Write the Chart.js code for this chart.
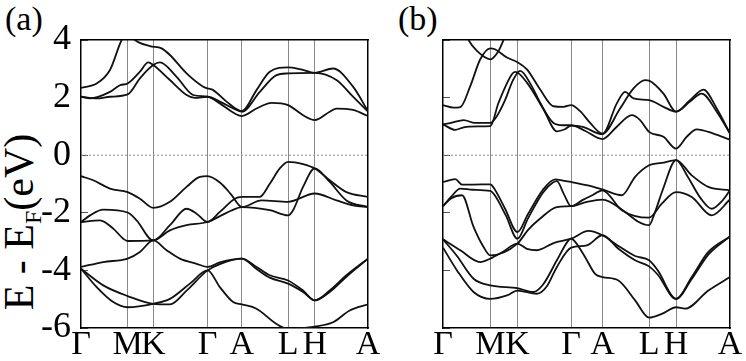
<!DOCTYPE html>
<html>
<head>
<meta charset="utf-8">
<script src="https://cdn.jsdelivr.net/npm/chart.js@4"></script>
<style>
  body { margin: 0; background: #fff; width: 746px; height: 361px; position: relative; overflow: hidden; font-family: "Liberation Serif", "Times New Roman", Times, serif; }
  canvas { position: absolute; top: 0; }
  #ca { left: 0; }
  #cb { left: 380px; }
  .tag { position: absolute; top: 2px; font-size: 34px; line-height: 1; color: #000; }
  #ylab { position: absolute; left: 21px; top: 222px; font-size: 42px; line-height: 1; white-space: nowrap; transform: translate(-50%, -50%) rotate(-90deg); }
  #ylab sub { font-size: 24px; vertical-align: -8px; }
</style>
</head>
<body>
<div class="tag" style="left:5px">(a)</div>
<div class="tag" style="left:398px">(b)</div>
<div id="ylab">E - E<sub>F</sub>(eV)</div>
<canvas id="ca" width="380" height="361"></canvas>
<canvas id="cb" width="366" height="361"></canvas>
<script>
// high-symmetry path
const kLabels = ["Γ", "M", "K", "Γ", "A", "L", "H", "A"];
const kA = [0, 46.7, 72.3, 126.7, 161, 207.3, 234, 287.3];
const kB = [0, 47.5, 74.5, 128.3, 159.6, 206.3, 233.3, 287.3];
const eMin = -6, eMax = 4, eStep = 2;
const fermi = 0;

// panel (a) bands: [k, E]
const aC4 = [[0,2.34],[15.7,2.49],[29,2.96],[40.7,4.0],[47.3,4.3],[54,4.0],[69,3.79],[80.7,3.71],[89,3.48],[105.7,2.84],[122.3,2.38],[126.7,2.32],[132.3,2.26],[145.7,1.86],[161,1.53],[175.7,2.26],[189,2.9],[207.3,3.05],[220,2.98],[234,2.86],[252.3,3.01],[272.3,2.38],[287.3,1.53]];
const aC3 = [[0,2.03],[9,1.97],[29,2.2],[39,2.43],[46.7,2.49],[59,2.9],[67.3,3.22],[72.3,3.13],[89,2.61],[105.7,2.09],[114,1.99],[126.7,2.03],[139,1.86],[155.7,1.57],[161,1.51],[179,2.2],[195.7,2.78],[207.3,2.84],[234,2.86],[255.7,2.61],[272.3,2.03],[287.3,1.51]];
const aC2 = [[0,2.03],[15.7,1.97],[29,2.03],[46.7,2.11],[59,2.67],[72.3,3.13],[79,3.22],[95.7,2.72],[112.3,2.09],[126.7,2.03],[139,1.8],[152.3,1.48],[161,1.36],[175.7,1.62],[190.7,1.82],[207.3,1.74],[222.3,1.39],[234,1.22],[249,1.51],[255.7,1.62],[272.3,1.57],[287.3,1.36]];
const aV1 = [[0,-0.73],[12.3,-0.87],[29,-1.16],[46.7,-1.28],[59,-1.51],[72.3,-1.83],[89,-1.62],[105.7,-1.1],[119,-0.75],[126.7,-0.73],[139,-0.95],[150,-1.35],[161,-1.8],[180.7,-1.57],[207.3,-1.62],[234,-1.33],[255.7,-1.57],[272.3,-1.74],[287.3,-1.8]];
const aV2 = [[0,-2.32],[9,-2.09],[22.3,-1.89],[46.7,-1.99],[55.7,-2.26],[72.3,-2.96],[89,-2.43],[105.7,-1.86],[115.7,-2.03],[126.7,-2.32],[139,-1.97],[154,-1.51],[161,-1.45],[178.7,-1.45],[189,-0.99],[199,-0.46],[207.3,-0.23],[222.3,-0.31],[234,-0.46],[249,-0.87],[265.7,-1.28],[287.3,-1.45]];
const aV3 = [[0,-2.32],[19,-2.26],[32.3,-2.55],[42.3,-2.9],[46.7,-2.98],[72.3,-2.96],[89,-2.61],[105.7,-2.43],[126.7,-2.32],[140,-2.1],[150,-1.93],[161,-1.8],[189,-1.91],[207.3,-2.09],[212.3,-1.91],[222.3,-1.1],[234,-0.46],[249,-0.93],[265.7,-1.57],[287.3,-1.8]];
const aV4 = [[0,-3.88],[22.3,-3.71],[46.7,-3.59],[59,-3.36],[72.3,-2.96],[85.7,-3.3],[99,-3.59],[115.7,-3.77],[126.7,-3.88],[139,-3.72],[161,-3.59],[175.7,-3.88],[189,-4.17],[207.3,-4.35],[222.3,-4.7],[234,-5.04],[249,-4.7],[265.7,-4.17],[287.3,-3.59]];
const aL1 = [[0,-3.94],[22.3,-4.52],[46.7,-4.89],[72.3,-5.16],[89,-5.18],[105.7,-4.7],[126.7,-4.0],[139,-3.78],[161,-3.59],[175.7,-3.95],[189,-4.25],[207.3,-4.46],[222.3,-4.75],[234,-5.04],[249,-4.75],[265.7,-4.22],[287.3,-3.59]];
const aL2 = [[0,-3.94],[15.7,-4.58],[32.3,-5.1],[46.7,-5.28],[72.3,-5.16],[89,-4.99],[109,-4.46],[126.7,-4.0],[139,-4.58],[152.3,-5.1],[161,-5.18],[175.7,-5.33],[195.7,-5.86],[207.3,-6.03],[234,-5.95],[252.3,-5.8],[269,-5.39],[287.3,-5.18]];

// panel (b) bands: [k, E]
const bU  = [[0,6.0],[15,4.9],[25.6,4.0],[34,3.62],[47.3,3.33],[55.6,3.62],[60.6,4.0],[68,4.7],[74.5,5.3]];
const bD3 = [[0,1.74],[10.6,1.65],[17.3,1.67],[27.3,2.4],[37.3,3.33],[47.3,3.71],[52,3.68],[64,3.39],[74.5,3.23],[84,2.98],[97.3,2.28],[110.6,1.7],[120.6,1.68],[128.3,1.74],[137.3,1.53],[147.3,1.12],[159.6,0.75],[177.3,1.62],[190.7,2.32],[202.3,2.61],[206.3,2.59],[220.7,2.14],[233.3,1.51],[247.3,1.86],[259,2.14],[274,1.51],[287.3,0.75]];
const bD2 = [[0,1.07],[12.3,0.88],[20.7,0.97],[35,1.0],[47.3,1.01],[55.6,1.82],[69,2.81],[72.3,2.89],[84,2.52],[100.6,1.59],[114,0.83],[122,0.9],[128.3,1.03],[140,0.98],[159.6,0.73],[174,1.8],[182.3,2.2],[190.7,1.97],[206.3,1.91],[220.7,1.68],[233.3,1.51],[247.3,1.91],[260.7,2.28],[274,1.62],[287.3,0.75]];
const bD1 = [[0,1.07],[8,1.12],[20.7,1.22],[32,1.12],[47.3,1.12],[54,1.36],[62,1.9],[70,2.6],[77.3,2.93],[88,2.45],[97.3,1.82],[110.6,1.12],[120,1.04],[128.3,1.04],[142,0.85],[159.6,0.56],[174,0.99],[189,1.39],[197.3,1.22],[206.3,0.81],[220.7,0.64],[233.3,0.23],[244,0.64],[254,0.9],[270.7,0.75],[287.3,0.54]];
const bW1 = [[0,-0.93],[12.3,-0.83],[19,-1.02],[30,-1.02],[47.3,-1.01],[50.6,-1.12],[62,-1.85],[74.5,-2.67],[85,-2.05],[100,-1.2],[112.3,-0.84],[120,-0.88],[128.3,-0.93],[145,-1.05],[159.6,-1.19],[179,-1.39],[192.3,-0.75],[206.3,-0.35],[219,-0.27],[233.3,-0.17],[249,-0.7],[265.6,-1.1],[287.3,-1.22]];
const bW2 = [[0,-1.77],[8,-1.45],[17.3,-1.16],[30,-1.2],[47.3,-1.24],[52,-1.4],[63,-2.1],[74.5,-2.9],[85,-2.2],[100,-1.3],[110,-0.95],[114,-0.9],[121,-1.35],[128.3,-1.77],[140,-1.55],[150,-1.38],[159.6,-1.22],[179,-1.91],[206.3,-2.17],[219,-1.68],[233.3,-1.28],[249,-1.45],[269,-2.09],[287.3,-1.54]];
const bW3 = [[0,-1.77],[8,-1.5],[19,-1.39],[30.6,-2.49],[40.6,-3.19],[47.3,-3.48],[74.5,-3.07],[85,-2.6],[97.3,-2.2],[114,-1.8],[128.3,-1.77],[144,-1.62],[159.6,-1.54],[182.3,-1.97],[195,-2.3],[206.3,-2.43],[212,-2.0],[220,-1.2],[233.3,-0.17],[245,-0.75],[258,-1.5],[269,-1.86],[279,-1.6],[287.3,-1.22]];
const bL1 = [[0,-2.92],[17.3,-3.3],[37.3,-3.71],[47.3,-3.59],[60,-3.35],[74.5,-3.07],[84,-3.25],[94,-3.3],[110.7,-3.05],[128.3,-2.9],[145.6,-2.63],[159.6,-2.78],[175.6,-3.15],[192.3,-3.5],[206.3,-3.65],[215,-4.0],[233.3,-4.99],[249,-4.23],[265.6,-3.36],[287.3,-2.82]];
const bL2 = [[0,-2.92],[14,-3.5],[30.6,-4.29],[47.3,-4.52],[74.5,-4.62],[90.6,-4.75],[100,-4.5],[114,-3.65],[125.6,-2.96],[128.3,-2.9],[132.3,-3.01],[142.3,-3.54],[152.3,-4.12],[159.6,-4.23],[175.6,-4.35],[192.3,-5.04],[206.3,-5.64],[219,-5.51],[233.3,-5.28],[242.3,-5.33],[265.6,-4.7],[287.3,-4.23]];
const bL3 = [[0,-3.21],[14,-4.0],[30.6,-4.75],[47.3,-4.99],[64,-4.87],[74.5,-4.7],[94,-4.81],[104,-4.55],[114,-3.88],[128.3,-3.21],[144,-3.13],[159.6,-2.78],[175.6,-3.25],[192.3,-3.65],[206.3,-3.86],[215,-4.15],[233.3,-4.99],[249,-4.3],[265.6,-3.45],[287.3,-2.82]];

const bandsA = [aC4, aC3, aC2, aV1, aV2, aV3, aV4, aL1, aL2];
const bandsB = [bU, bD3, bD2, bD1, bW1, bW2, bW3, bL1, bL2, bL3];

const serif = "'Liberation Serif', 'Times New Roman', Times, serif";

function makeChart(id, bands, kTicks, yWidth, padRight, showLabels) {
    const kMax = kTicks[kTicks.length - 1];
    const datasets = bands.map((b) => ({
        data: b.map((p) => ({x: p[0], y: p[1]})),
        borderColor: "#111",
        borderWidth: 1.8,
        pointRadius: 0,
        fill: false,
        cubicInterpolationMode: "monotone"
    }));
    datasets.push({
        data: [{x: 0, y: fermi}, {x: kMax, y: fermi}],
        borderColor: "#8a8a8a",
        borderWidth: 1,
        borderDash: [2, 2],
        pointRadius: 0,
        fill: false
    });

    const frame = {display: true, color: "#000", width: 1.5};

    return new Chart(document.getElementById(id), {
        type: "line",
        data: {datasets: datasets},
        options: {
            responsive: false,
            animation: false,
            events: [],
            layout: {padding: {top: 40, right: padRight, left: 0, bottom: 0}},
            plugins: {legend: {display: false}, tooltip: {enabled: false}},
            scales: {
                x: {
                    type: "linear",
                    min: 0,
                    max: kMax,
                    afterBuildTicks: (s) => { s.ticks = kTicks.map((v) => ({value: v})); },
                    afterFit: (s) => { s.height = 33; s.paddingLeft = 0; s.paddingRight = 0; },
                    ticks: {
                        autoSkip: false,
                        maxRotation: 0,
                        padding: 0,
                        color: "#000",
                        font: {family: serif, size: 34, lineHeight: 1},
                        callback: (v, i) => kLabels[i]
                    },
                    grid: {
                        drawTicks: false,
                        lineWidth: 1,
                        color: (ctx) => (ctx.index === 0 || ctx.index === kTicks.length - 1) ? "rgba(0,0,0,0)" : "#8a8a8a"
                    },
                    border: frame
                },
                y: {
                    min: eMin,
                    max: eMax,
                    afterFit: (s) => { s.width = yWidth; s.paddingTop = 0; s.paddingBottom = 0; },
                    ticks: {
                        stepSize: eStep,
                        padding: 17,
                        color: showLabels ? "#000" : "rgba(0,0,0,0)",
                        font: {family: serif, size: 36, lineHeight: 1}
                    },
                    grid: {drawOnChartArea: false, drawTicks: true, tickLength: -7, tickColor: "#555", tickWidth: 1},
                    border: frame
                },
                xTop: {
                    type: "linear",
                    position: "top",
                    min: 0,
                    max: kMax,
                    ticks: {display: false},
                    grid: {drawOnChartArea: false, drawTicks: false},
                    afterFit: (s) => { s.height = 0; },
                    border: frame
                },
                yRight: {
                    type: "linear",
                    position: "right",
                    min: eMin,
                    max: eMax,
                    ticks: {display: false},
                    grid: {drawOnChartArea: false, drawTicks: false},
                    afterFit: (s) => { s.width = 0; },
                    border: frame
                }
            }
        }
    });
}

makeChart("ca", bandsA, kA, 81, 12, true);
makeChart("cb", bandsB, kB, 63, 16, false);
</script>
</body>
</html>
